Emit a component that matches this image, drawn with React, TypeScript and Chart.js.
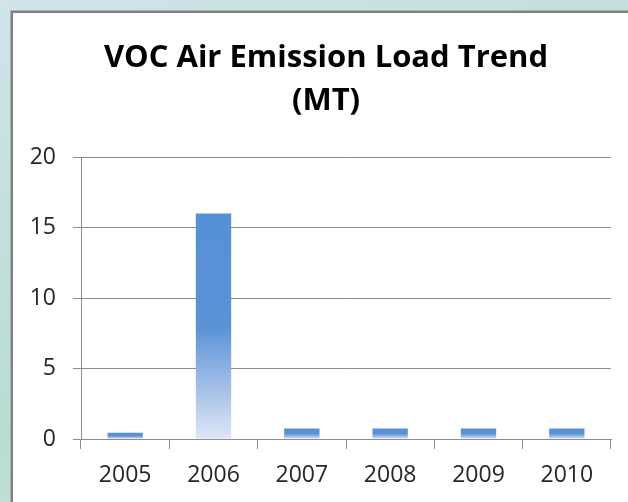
import React, { useEffect, useRef } from "react";
import { Chart, registerables } from "chart.js";

Chart.register(...registerables);

const categories = ["2005", "2006", "2007", "2008", "2009", "2010"];
const values = [0.45, 16, 0.75, 0.75, 0.75, 0.75];
const titleLines = ["VOC Air Emission Load Trend", "(MT)"];
const yMin = 0;
const yMax = 20;
const yStep = 5;

const FONT = "'Open Sans', 'Noto Sans', sans-serif";

const titlePlugin = {
  id: "offsetTitle",
  afterDraw(chart: any) {
    const c = chart.ctx;
    c.save();
    c.fillStyle = "#000000";
    c.font = `bold 31px ${FONT}`;
    c.textAlign = "center";
    c.textBaseline = "middle";
    const cx = 326;
    const y0 = 58.5;
    const lh = 43;
    titleLines.forEach((t, i) => c.fillText(t, cx, y0 + i * lh));
    c.restore();
  },
};

export default function App() {
  const ref = useRef<HTMLCanvasElement | null>(null);

  useEffect(() => {
    document.body.style.margin = "0";
    const canvas = ref.current;
    if (!canvas) return;
    const chart = new Chart(canvas, {
      type: "bar",
      data: {
        labels: categories,
        datasets: [
          {
            data: values,
            backgroundColor: (ctx: any) => {
              const solid = "#5690d6";
              if (ctx.type !== "data") return solid;
              const c = ctx.chart;
              const ys = c.scales && c.scales.y;
              if (!ys) return solid;
              const top = ys.getPixelForValue(ctx.raw);
              const base = ys.getPixelForValue(0);
              if (!isFinite(top) || !isFinite(base) || base - top < 1) return solid;
              const g = c.ctx.createLinearGradient(0, top, 0, base);
              g.addColorStop(0, "#5690d6");
              g.addColorStop(0.5, "#5a92d6");
              g.addColorStop(1, "#dfe6f6");
              return g;
            },
            borderWidth: 0,
            categoryPercentage: 1,
            barPercentage: 0.4,
          },
        ],
      },
      options: {
        responsive: false,
        animation: false,
        layout: { padding: { top: 157, left: 0, right: 17, bottom: 0 } },
        plugins: {
          legend: { display: false },
          tooltip: { enabled: false },
          title: { display: false },
        },
        scales: {
          x: {
            grid: {
              display: true,
              drawOnChartArea: false,
              drawTicks: true,
              tickLength: 10,
              color: "#8c8c8c",
              lineWidth: 1,
            },
            border: { display: true, color: "#8c8c8c", width: 1 },
            ticks: {
              color: "#262626",
              font: { family: FONT, size: 23 },
              padding: 13,
              maxRotation: 0,
            },
            afterFit: (s: any) => {
              s.height = 63;
            },
          },
          y: {
            min: yMin,
            max: yMax,
            grid: {
              color: "#8c8c8c",
              lineWidth: 1,
              drawTicks: true,
              tickLength: 8,
            },
            border: { display: true, color: "#8c8c8c", width: 1 },
            ticks: {
              stepSize: yStep,
              color: "#262626",
              font: { family: FONT, size: 23 },
              padding: 17,
            },
            afterFit: (s: any) => {
              s.width = 81;
            },
          },
        },
      },
      plugins: [titlePlugin],
    } as any);
    return () => chart.destroy();
  }, []);

  return (
    <div
      style={{
        position: "fixed",
        left: 0,
        top: 0,
        width: 628,
        height: 502,
        overflow: "hidden",
        background:
          "linear-gradient(160deg, #d0e4ea 0%, #c2dfdc 35%, #b9dcd2 60%, #c8e2dc 80%, #d6ebe0 100%)",
      }}
    >
      <div
        style={{
          position: "absolute",
          left: 11,
          top: 11,
          width: 640,
          height: 520,
          background: "#ffffff",
          borderLeft: "2px solid #7f7f7f",
          borderTop: "2px solid #7f7f7f",
          boxShadow: "-1px -1px 0 #a7b4b4",
        }}
      />
      <canvas
        ref={ref}
        width={628}
        height={502}
        style={{ position: "absolute", left: 0, top: 0, width: 628, height: 502 }}
      />
    </div>
  );
}
